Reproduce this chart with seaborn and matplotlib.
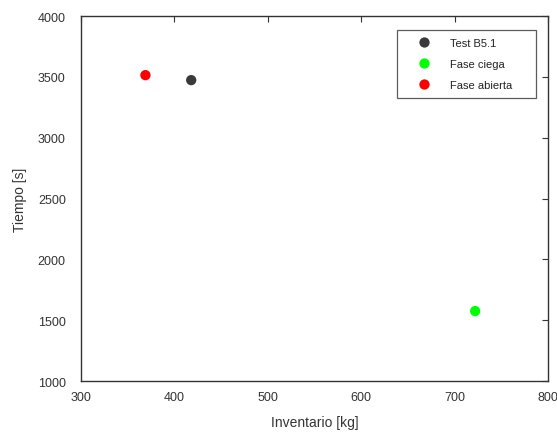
import matplotlib
matplotlib.use("Agg")
import matplotlib.pyplot as plt
import seaborn as sns
import pandas as pd

series = ["Test B5.1", "Fase ciega", "Fase abierta"]
inventario = [418, 722, 369]
tiempo = [3473, 1575, 3514]
colors = ["#3a3a3a", "#00ff00", "#ff0000"]

sns.set_style("white")
plt.rcParams["font.family"] = ["Liberation Sans", "DejaVu Sans"]

df = pd.DataFrame({"serie": series, "inventario": inventario, "tiempo": tiempo})

fig = plt.figure(figsize=(5.57, 4.35), dpi=100)
ax = fig.add_axes([0.1454, 0.1218, 0.8384, 0.8391])

sns.scatterplot(data=df, x="inventario", y="tiempo", hue="serie",
                palette=dict(zip(series, colors)), s=55, edgecolor="none",
                ax=ax, legend=True)

ax.set_xlim(300, 800)
ax.set_ylim(1000, 4000)
ax.set_xticks([300, 400, 500, 600, 700, 800])
ax.set_yticks([1000, 1500, 2000, 2500, 3000, 3500, 4000])
ax.tick_params(direction="in", length=4, width=0.8, top=True, right=True,
               labelsize=9, colors="#333333")
ax.tick_params(axis="x", pad=7)
ax.tick_params(axis="y", pad=11)
for sp in ax.spines.values():
    sp.set_color("#333333")
    sp.set_linewidth(1.0)

ax.set_xlabel("Inventario [kg]", fontsize=10, color="#333333", labelpad=9)
ax.set_ylabel("Tiempo [s]", fontsize=10, color="#333333", labelpad=8)

leg = ax.legend(loc="upper left", bbox_to_anchor=(0.6767, 0.9616, 0.2976, 0.0),
                mode="expand", fontsize=8, frameon=True, fancybox=False,
                edgecolor="#333333", borderpad=0.75, labelspacing=0.98,
                handlelength=3.3, handletextpad=0.7, borderaxespad=0.0,
                markerscale=1.0)
leg.get_frame().set_linewidth(0.9)
for t in leg.get_texts():
    t.set_color("#222222")

fig.savefig("out.png", dpi=100)
